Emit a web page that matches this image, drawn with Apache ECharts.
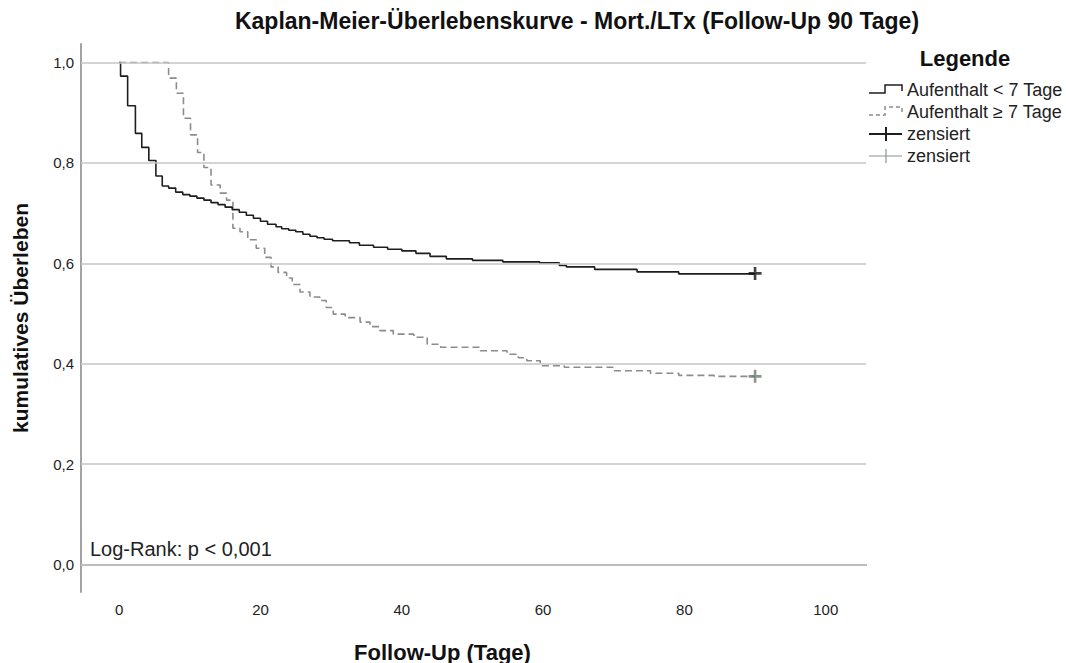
<!DOCTYPE html>
<html>
<head>
<meta charset="utf-8">
<script src="https://cdn.jsdelivr.net/npm/echarts@6/dist/echarts.min.js"></script>
<style>
html,body{margin:0;padding:0;background:#fff;}
#chart{width:1066px;height:663px;}
</style>
</head>
<body>
<div id="chart"></div>
<script>
// ---- data ----
const chartTitle = 'Kaplan-Meier-Überlebenskurve - Mort./LTx (Follow-Up 90 Tage)';
const seriesNames = ['Aufenthalt < 7 Tage', 'Aufenthalt \u2265 7 Tage'];
const censorLabel = 'zensiert';
const xTitle = 'Follow-Up (Tage)';
const yTitle = 'kumulatives Überleben';
const noteText = 'Log-Rank: p < 0,001';

// group 1: stay < 7 days (time in days, cumulative survival)
const timesA = [0, 0.2, 1.2, 2.3, 3.2, 4.2, 5.2, 6.1, 7, 8, 9, 10, 11, 12, 13, 14, 15, 16, 17, 18, 19, 20, 21, 22.2, 23, 24, 25, 26, 27, 28, 29, 30.2, 32.6, 34, 36, 38, 40, 42, 44, 46.3, 50, 54.3, 59.5, 62.3, 63.3, 67.3, 73.3, 79.2, 90];
const survA  = [1.0, 0.973, 0.914, 0.859, 0.831, 0.805, 0.774, 0.754, 0.75, 0.742, 0.737, 0.734, 0.73, 0.726, 0.721, 0.717, 0.712, 0.707, 0.702, 0.696, 0.69, 0.684, 0.678, 0.673, 0.669, 0.666, 0.663, 0.658, 0.654, 0.651, 0.648, 0.645, 0.641, 0.636, 0.632, 0.628, 0.625, 0.62, 0.614, 0.609, 0.606, 0.603, 0.601, 0.596, 0.593, 0.588, 0.583, 0.579, 0.579];

// group 2: stay >= 7 days
const timesB = [0, 7.0, 8.1, 9.1, 10.1, 11.1, 12.0, 13.0, 14.3, 15.2, 16.1, 17.1, 18.2, 19.4, 20.6, 21.5, 22.5, 23.7, 24.5, 25.6, 27, 28.4, 29.3, 30.3, 32, 34.1, 35.5, 36.9, 38.8, 41.7, 43.6, 45.5, 51.1, 54.9, 56.5, 57.7, 59.6, 63, 70, 75.2, 79.2, 84.2, 90];
const survB  = [1.0, 0.969, 0.939, 0.889, 0.856, 0.821, 0.791, 0.756, 0.74, 0.726, 0.67, 0.663, 0.647, 0.63, 0.612, 0.593, 0.582, 0.571, 0.558, 0.543, 0.533, 0.526, 0.512, 0.499, 0.492, 0.483, 0.474, 0.466, 0.459, 0.453, 0.439, 0.433, 0.426, 0.419, 0.412, 0.406, 0.396, 0.393, 0.386, 0.381, 0.377, 0.375, 0.375];

// censored observations (time, survival)
const censorA = [[90, 0.58]];
const censorB = [[90, 0.375]];

const xTicks = [0, 20, 40, 60, 80, 100];
const yTicks = [0, 0.2, 0.4, 0.6, 0.8, 1.0];

// ---- chart ----
const FONT = "'Liberation Sans', Arial, sans-serif";
const zip = (t, s) => t.map((v, i) => [v, s[i]]);
const plus = 'path://M4,0h2v4h4v2h-4v4h-2v-4h-4v-2h4z';

const chart = echarts.init(document.getElementById('chart'), null, {renderer: 'svg'});

const legendX = 869, legendTextX = 907;
const rowY = [90, 112, 134, 156];

chart.setOption({
  animation: false,
  backgroundColor: '#ffffff',
  textStyle: {fontFamily: FONT},
  grid: {left: 81, right: 200, top: 44, bottom: 71, containLabel: false, outerBoundsMode: 'none'},
  xAxis: {
    type: 'value', min: -5.4, max: 105.7,
    name: xTitle, nameLocation: 'middle', nameGap: 49,
    nameTextStyle: {fontFamily: FONT, fontSize: 22, fontWeight: 'bold', color: '#111', padding: [0, 62, 0, 0]},
    axisLine: {show: true, lineStyle: {color: '#a3a3a3', width: 2}},
    axisTick: {show: false},
    splitLine: {show: false},
    axisLabel: {customValues: xTicks, margin: 10, fontSize: 15, color: '#222', fontFamily: FONT,
      formatter: v => String(v)}
  },
  yAxis: {
    type: 'value', min: -0.0546, max: 1.037,
    name: yTitle, nameLocation: 'middle', nameGap: 50, nameRotate: 90,
    nameTextStyle: {fontFamily: FONT, fontSize: 21, fontWeight: 'bold', color: '#111'},
    axisLine: {show: true, onZero: false, lineStyle: {color: '#a3a3a3', width: 2}},
    axisTick: {show: false},
    splitLine: {show: false},
    axisLabel: {customValues: yTicks, margin: 7, fontSize: 15, color: '#222', fontFamily: FONT,
      formatter: v => v.toFixed(1).replace('.', ',')}
  },
  series: [
    {
      type: 'line', data: [], z: 1, silent: true,
      markLine: {
        silent: true, symbol: ['none', 'none'], label: {show: false},
        lineStyle: {color: '#c6c6c6', width: 1.6, type: 'solid'},
        emphasis: {disabled: true},
        data: yTicks.map(v => ({yAxis: v}))
      }
    },
    {
      name: seriesNames[1], type: 'line', step: 'end', z: 3,
      data: zip(timesB, survB), showSymbol: false, symbol: 'none',
      lineStyle: {color: '#8c8c8c', width: 1.6, type: [7, 4]}
    },
    {
      name: seriesNames[0], type: 'line', step: 'end', z: 4,
      data: zip(timesA, survA), showSymbol: false, symbol: 'none',
      lineStyle: {color: '#1e1e1e', width: 1.6}
    },
    {
      name: censorLabel, type: 'scatter', z: 5, data: censorA,
      symbol: plus, symbolSize: 13, itemStyle: {color: '#111'}
    },
    {
      name: censorLabel, type: 'scatter', z: 5, data: censorB,
      symbol: plus, symbolSize: 13, itemStyle: {color: '#6c7a70'}
    }
  ],
  graphic: [
    {type: 'text', x: 577, y: 21, style: {text: chartTitle, font: 'bold 23px ' + FONT, fill: '#111', textAlign: 'center', textVerticalAlign: 'middle'}},
    {type: 'text', x: 90, y: 549, style: {text: noteText, font: '20px ' + FONT, fill: '#222', textAlign: 'left', textVerticalAlign: 'middle'}},
    {type: 'text', x: 965, y: 58, style: {text: 'Legende', font: 'bold 22px ' + FONT, fill: '#111', textAlign: 'center', textVerticalAlign: 'middle'}},
    // legend row 1
    {type: 'polyline', shape: {points: [[legendX, rowY[0] + 3], [885, rowY[0] + 3], [885, rowY[0] - 5], [902, rowY[0] - 5], [902, rowY[0] + 1]]},
      style: {stroke: '#1e1e1e', lineWidth: 1.5, fill: null}},
    {type: 'text', x: legendTextX, y: rowY[0], style: {text: seriesNames[0], font: '18px ' + FONT, fill: '#222', textVerticalAlign: 'middle'}},
    // legend row 2
    {type: 'polyline', shape: {points: [[legendX, rowY[1] + 3], [885, rowY[1] + 3], [885, rowY[1] - 5], [902, rowY[1] - 5], [902, rowY[1] + 1]]},
      style: {stroke: '#8c8c8c', lineWidth: 1.5, fill: null, lineDash: [4, 3]}},
    {type: 'text', x: legendTextX, y: rowY[1], style: {text: seriesNames[1], font: '18px ' + FONT, fill: '#222', textVerticalAlign: 'middle'}},
    // legend row 3
    {type: 'line', shape: {x1: legendX, y1: rowY[2], x2: 902, y2: rowY[2]}, style: {stroke: '#1e1e1e', lineWidth: 2}},
    {type: 'line', shape: {x1: 886, y1: rowY[2] - 7, x2: 886, y2: rowY[2] + 7}, style: {stroke: '#1e1e1e', lineWidth: 2}},
    {type: 'text', x: legendTextX, y: rowY[2], style: {text: censorLabel, font: '18px ' + FONT, fill: '#222', textVerticalAlign: 'middle'}},
    // legend row 4
    {type: 'line', shape: {x1: legendX, y1: rowY[3], x2: 902, y2: rowY[3]}, style: {stroke: '#8a948c', lineWidth: 1.2}},
    {type: 'line', shape: {x1: 886, y1: rowY[3] - 7, x2: 886, y2: rowY[3] + 7}, style: {stroke: '#8a948c', lineWidth: 1.2}},
    {type: 'text', x: legendTextX, y: rowY[3], style: {text: censorLabel, font: '18px ' + FONT, fill: '#222', textVerticalAlign: 'middle'}}
  ]
});
</script>
</body>
</html>
